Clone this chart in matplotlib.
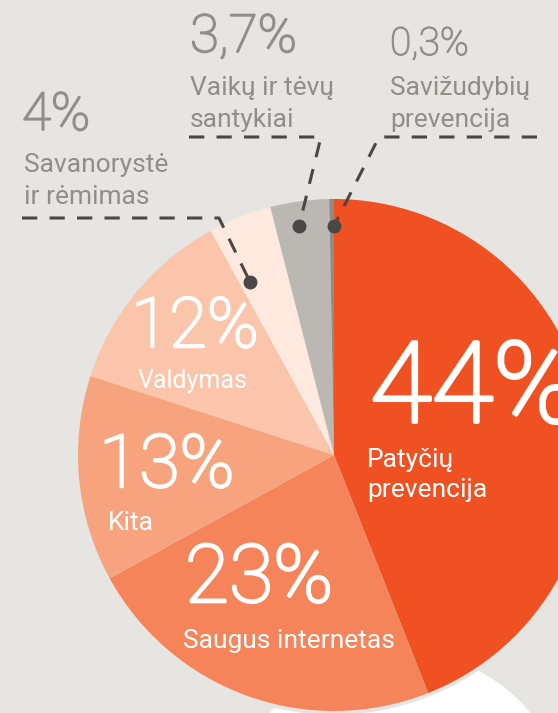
import matplotlib.pyplot as plt
import matplotlib.patheffects as pe
from matplotlib.patches import Circle

# data
shares = [44, 23, 13, 12, 4, 3.7, 0.3]
pct_labels = ["44%", "23%", "13%", "12%", "4%", "3,7%", "0,3%"]
names = ["Patyčių\nprevencija", "Saugus internetas", "Kita", "Valdymas",
         "Savanorystė\nir rėmimas", "Vaikų ir tėvų\nsantykiai", "Savižudybių\nprevencija"]
colors = ["#f05123", "#f5845a", "#f7a47e", "#fac5aa", "#fde9dd", "#bbb8b4", "#8f8c88"]

bg = "#e6e5e1"
grey_txt = "#918e89"
line_col = "#4a4744"
font = "Roboto"

fig = plt.figure(figsize=(5.58, 7.13), dpi=100, facecolor=bg)
ax = fig.add_axes([0, 0, 1, 1])
ax.set_facecolor(bg)

cx, cy, R = 334, 455, 256

# white disc behind the pie, with a thin gap
ax.add_patch(Circle((400, 820), 168, color="white", zorder=0))
ax.add_patch(Circle((cx, cy), R + 3, color=bg, zorder=1))

# y axis is inverted (pixel coords), so counterclockwise in data = clockwise on screen
ax.pie(shares, colors=colors, center=(cx, cy), radius=R, startangle=-90,
       counterclock=True, wedgeprops=dict(linewidth=0, zorder=2))

ax.set_xlim(0, 558)
ax.set_ylim(713, 0)
ax.set_aspect("equal")
ax.axis("off")

# light font thickened a little, closer to the original's weight
def thick(col, w):
    return [pe.withStroke(linewidth=w, foreground=col)]

# labels inside the slices: (x, baseline y, size of %, size of name)
inner = {
    0: (370, 422, 81, 19),
    1: (185, 602, 58, 19),
    2: (99, 487, 53, 19),
    3: (131, 347, 50, 18),
}
name_pos = {0: (367, 467), 1: (183, 648), 2: (108, 530), 3: (138, 388)}
for i, (x, y, big, small) in inner.items():
    ax.text(x, y, pct_labels[i], color="white", fontsize=big, family=font,
            fontweight="light", va="baseline", ha="left", zorder=5,
            path_effects=thick("white", big / 30))
    nx, ny = name_pos[i]
    for k, line in enumerate(names[i].split("\n")):
        ax.text(nx, ny + k * 30, line, color="white", fontsize=small, family=font,
                va="baseline", ha="left", zorder=5)

# small slices, labelled outside
outer = {
    4: (22, 130, 38, 24, 172),
    5: (190, 52, 38, 190, 95),
    6: (390, 55, 28, 390, 95),
}
for i, (x, y, big, nx, ny) in outer.items():
    ax.text(x, y, pct_labels[i], color=grey_txt, fontsize=big, family=font,
            fontweight="light", va="baseline", ha="left", zorder=5,
            path_effects=thick(grey_txt, big / 32))
    for k, line in enumerate(names[i].split("\n")):
        ax.text(nx, ny + k * 32, line, color=grey_txt, fontsize=19, family=font,
                va="baseline", ha="left", zorder=5)

# leader lines
leaders = [
    ([22, 219, 250], [218, 218, 282]),
    ([189, 321, 299], [137, 137, 226]),
    ([537, 379, 334], [137, 137, 226]),
]
for xs, ys in leaders:
    ax.plot(xs, ys, color=line_col, lw=2.2, dashes=(5, 4), zorder=6)
    ax.plot(xs[-1], ys[-1], "o", color=line_col, ms=9, zorder=7)

fig.savefig("out.png", dpi=100, facecolor=bg)
